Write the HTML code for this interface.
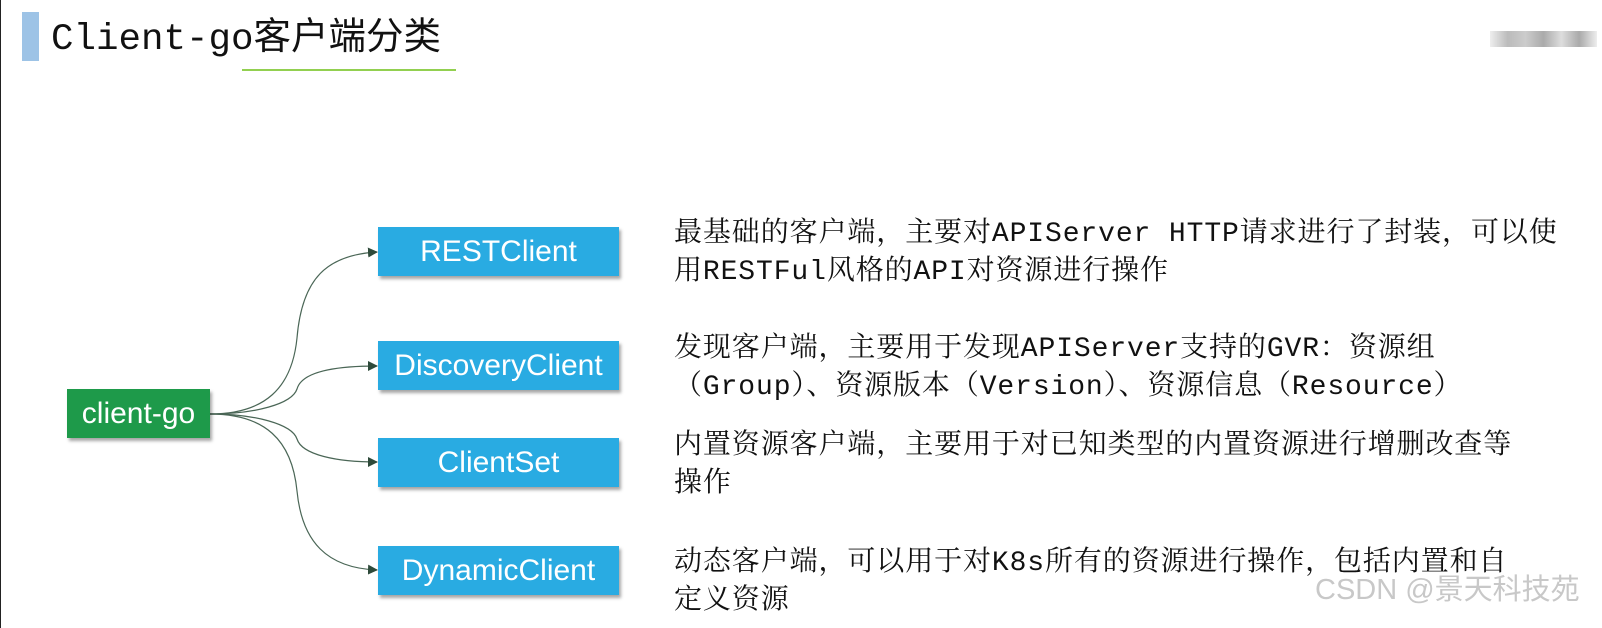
<!DOCTYPE html>
<html><head><meta charset="utf-8"><style>
body{margin:0;width:1602px;height:628px;background:#fff;position:relative;overflow:hidden;}
.abs{position:absolute;}
.box{position:absolute;color:#fff;font-family:"Liberation Sans",Arial,sans-serif;font-size:30px;display:flex;align-items:center;justify-content:center;box-shadow:2px 3px 3px rgba(0,0,0,0.35);}
.blue{background:#29abe2;left:378px;width:241px;height:49px;}
.txt{position:absolute;left:674px;font-family:"Liberation Mono","Noto Serif CJK SC",serif;font-size:28px;letter-spacing:0.9px;color:#111;line-height:38px;white-space:nowrap;}
</style></head><body>
<div class="abs" style="left:0;top:0;width:1px;height:628px;background:#222"></div>
<div class="abs" style="left:22px;top:12px;width:17px;height:49px;background:#9dc3e6"></div>
<div class="abs" style="left:51px;top:17px;font-family:'Liberation Mono','Noto Sans CJK SC',monospace;font-size:37.5px;line-height:46px;color:#111;white-space:nowrap">Client-go客户端分类</div>
<div class="abs" style="left:242px;top:69px;width:214px;height:2px;background:#92d050"></div>
<div class="abs" style="left:1490px;top:31px;width:107px;height:16px;background:linear-gradient(90deg,#eee,#bbb,#ccc,#aaa,#ddd,#aaa,#eee)"></div>

<svg class="abs" style="left:0;top:0" width="1602" height="628">
<defs><marker id="a" markerWidth="10" markerHeight="10" refX="9" refY="5" orient="auto" markerUnits="userSpaceOnUse"><path d="M0,0 L10,5 L0,10z" fill="#2e4a3a"/></marker></defs>
<g fill="none" stroke="#4a6656" stroke-width="1.2" marker-end="url(#a)">
<path d="M210,414 C265,414 292,388 297,338 C302,278 327,255 377,252"/>
<path d="M210,414 C255,414 292,404 297,389 C302,371 337,366 377,366"/>
<path d="M210,414 C255,414 292,424 297,439 C302,455 337,462 377,462"/>
<path d="M210,414 C265,414 292,440 297,491 C302,542 327,568 377,570"/>
</g></svg>

<div class="box" style="left:67px;top:389px;width:143px;height:49px;background:#1e9a4a">client-go</div>
<div class="box blue" style="top:227px">RESTClient</div>
<div class="box blue" style="top:341px">DiscoveryClient</div>
<div class="box blue" style="top:438px">ClientSet</div>
<div class="box blue" style="top:546px">DynamicClient</div>

<div class="txt" style="top:216px">最基础的客户端，主要对APIServer HTTP请求进行了封装，可以使<br>用RESTFul风格的API对资源进行操作</div>
<div class="txt" style="top:331px">发现客户端，主要用于发现APIServer支持的GVR：资源组<br>（Group）、资源版本（Version）、资源信息（Resource）</div>
<div class="txt" style="top:428px">内置资源客户端，主要用于对已知类型的内置资源进行增删改查等<br>操作</div>
<div class="txt" style="top:545px">动态客户端，可以用于对K8s所有的资源进行操作，包括内置和自<br>定义资源</div>
<div class="abs" style="left:1315px;top:572px;font-family:'Liberation Sans','Noto Sans CJK SC',sans-serif;font-size:29px;line-height:36px;color:#c8c8c8;white-space:nowrap">CSDN @景天科技苑</div>
</body></html>
